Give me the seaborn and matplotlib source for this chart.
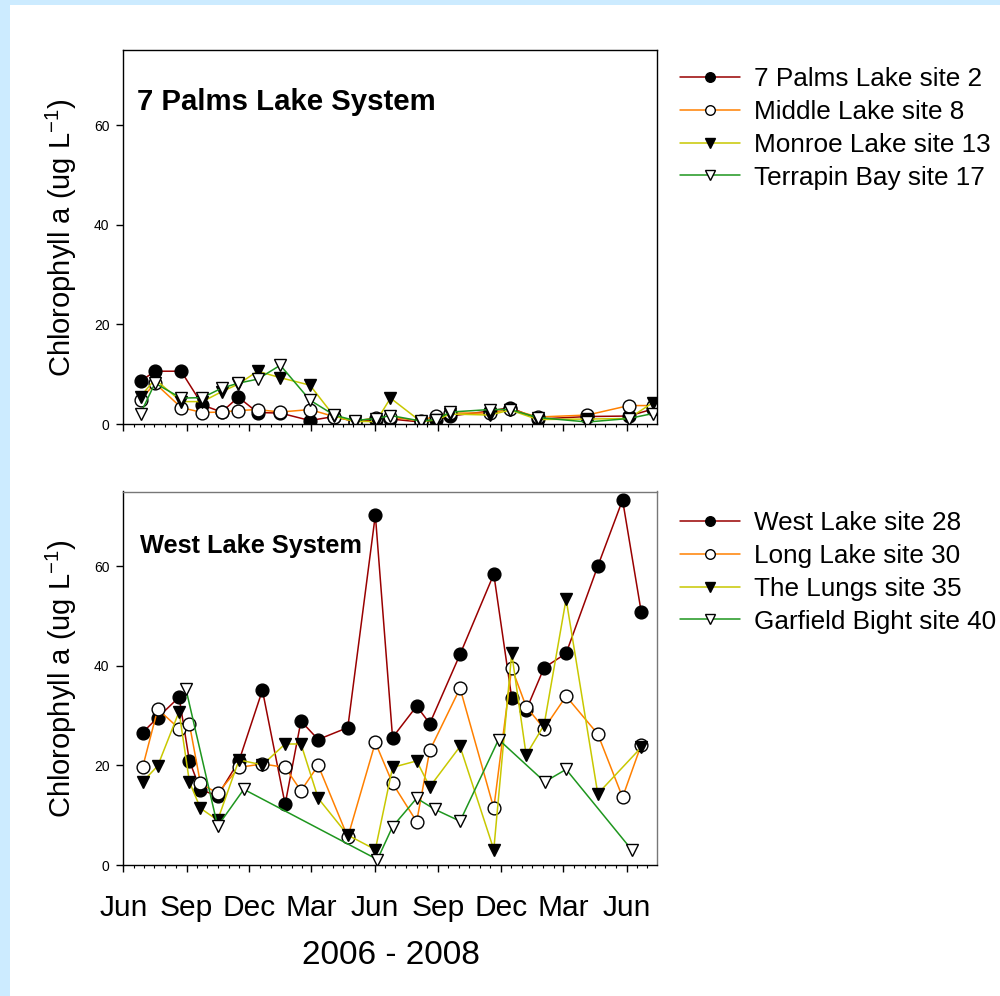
import numpy as np
import pandas as pd
import matplotlib
matplotlib.use('Agg')
import matplotlib.pyplot as plt
import matplotlib.dates as mdates
from matplotlib.patches import Rectangle
import seaborn as sns

# ---------------- data ----------------
dates_top = ['2006-06-26', '2006-07-17', '2006-08-24', '2006-09-24', '2006-10-22',
             '2006-11-15', '2006-12-13', '2007-01-15', '2007-02-27', '2007-04-03',
             '2007-05-03', '2007-06-03', '2007-06-24', '2007-08-07', '2007-08-29',
             '2007-09-19', '2007-11-15', '2007-12-15', '2008-01-24', '2008-04-05',
             '2008-06-04', '2008-07-09']
palms2 = [8.6, 10.6, 10.6, 3.8, 2.4, 5.4, 2.3, 2.2, 0.7, 1.5, 0.5, 0.8, 1.0,
          0.4, 0.8, 1.6, 2.6, 3.3, 1.0, 1.5, 1.6, 3.0]
middle8 = [4.8, 8.2, 3.3, 2.3, 2.4, 2.7, 2.9, 2.4, 2.9, 1.5, 0.5, 1.3, 1.4,
           0.6, 1.7, 2.2, 2.2, 3.0, 1.4, 1.8, 3.7, 3.7]
monroe13 = [5.5, 9.0, 4.5, 4.5, 6.5, 8.0, 10.6, 9.3, 7.8, 1.6, 0.5, 0.5, 5.2,
            0.5, 0.8, 2.0, 1.8, 2.8, 0.9, 1.0, 1.1, 4.3]
terrapin17 = [2.1, 8.2, 5.2, 5.3, 7.2, 8.2, 9.0, 11.8, 4.8, 1.8, 0.7, 1.1, 1.7,
              0.6, 0.9, 2.4, 2.9, 2.9, 1.3, 0.4, 1.1, 2.1]

dates_west = ['2006-06-29', '2006-07-21', '2006-08-21', '2006-09-05', '2006-09-21',
              '2006-10-16', '2006-11-16', '2006-12-20', '2007-01-22', '2007-02-14',
              '2007-03-11', '2007-04-23', '2007-06-02', '2007-06-27', '2007-08-01',
              '2007-08-20', '2007-10-03', '2007-11-21', '2007-12-17', '2008-01-07',
              '2008-02-02', '2008-03-05', '2008-04-20', '2008-05-26', '2008-06-22']
west28 = [26.6, 29.6, 33.7, 20.9, 15.1, 13.9, 20.9, 35.1, 12.2, 28.9, 25.2, 27.6,
          70.3, 25.6, 31.9, 28.4, 42.3, 58.4, 33.6, 31.1, 39.6, 42.5, 60.0, 73.3, 50.9]
long30 = [19.6, 31.3, 27.4, 28.3, 16.4, 14.4, 19.6, 20.3, 19.6, 14.9, 20.0, 5.6,
          24.6, 16.4, 8.7, 23.0, 35.5, 11.4, 39.6, 31.8, 27.4, 33.9, 26.3, 13.6, 24.1]
dates_lungs = [d for d in dates_west if d != '2008-05-26']
lungs35 = [16.7, 19.9, 30.8, 16.7, 11.4, 9.0, 21.1, 20.1, 24.3, 24.3, 13.4, 6.0,
           3.1, 19.6, 20.9, 15.7, 23.8, 3.1, 42.5, 22.1, 28.1, 53.4, 14.3, 23.6]
dates_garfield = ['2006-08-31', '2006-10-16', '2006-11-23', '2007-06-05', '2007-06-27',
                  '2007-08-01', '2007-08-27', '2007-10-03', '2007-11-28', '2008-02-03',
                  '2008-03-05', '2008-06-08']
garfield40 = [35.3, 7.8, 15.2, 1.1, 7.7, 13.4, 11.2, 8.8, 25.2, 16.7, 19.2, 3.1]

top_series = [
    ('7 Palms Lake site 2', dates_top, palms2),
    ('Middle Lake site 8', dates_top, middle8),
    ('Monroe Lake site 13', dates_top, monroe13),
    ('Terrapin Bay site 17', dates_top, terrapin17),
]
bottom_series = [
    ('West Lake site 28', dates_west, west28),
    ('Long Lake site 30', dates_west, long30),
    ('The Lungs site 35', dates_lungs, lungs35),
    ('Garfield Bight site 40', dates_garfield, garfield40),
]

# ---------------- style ----------------
line_colors = ['#990000', '#FF8000', '#C8C800', '#1E961E']
markers = ['o', 'o', 'v', 'v']
face_colors = ['black', 'white', 'black', 'white']

sns.set_style('ticks')
plt.rcParams['font.family'] = ['Liberation Sans', 'DejaVu Sans']
plt.rcParams['mathtext.fontset'] = 'custom'
plt.rcParams['mathtext.rm'] = 'Liberation Sans'
plt.rcParams['mathtext.it'] = 'Liberation Sans:italic'
plt.rcParams['mathtext.bf'] = 'Liberation Sans:bold'
for k in ['text.color', 'axes.labelcolor', 'xtick.color', 'ytick.color']:
    plt.rcParams[k] = 'black'

fig = plt.figure(figsize=(10, 9.96), dpi=100, facecolor='#CCEBFF')
fig.add_artist(Rectangle((0.010, 0.0), 0.99, 1 - 5 / 996, transform=fig.transFigure,
                         facecolor='white', edgecolor='none', zorder=-10))

ax_w = (657 - 123.3) / 1000
ax_h = 373.5 / 996
ax1 = fig.add_axes([0.1233, 1 - 424 / 996, ax_w, ax_h])
ax2 = fig.add_axes([0.1233, 1 - 865 / 996, ax_w, ax_h])

x0 = pd.Timestamp('2006-06-01')
x1 = pd.Timestamp('2008-07-15')


def draw(ax, series):
    for i, (name, d, v) in enumerate(series):
        df = pd.DataFrame({'date': pd.to_datetime(d), 'value': v})
        sns.lineplot(data=df, x='date', y='value', ax=ax, color=line_colors[i],
                     marker=markers[i], markersize=9.2, markerfacecolor=face_colors[i],
                     markeredgecolor='black', markeredgewidth=1.0, linewidth=1.1,
                     label=name, estimator=None, sort=False)
    leg = ax.get_legend()
    if leg is not None:
        leg.remove()
    ax.set_xlim(x0, x1)
    ax.set_ylim(0, 75)
    ax.set_yticks([0, 20, 40, 60])
    ax.xaxis.set_major_locator(mdates.MonthLocator(bymonth=[3, 6, 9, 12]))
    ax.xaxis.set_minor_locator(mdates.MonthLocator(bymonthday=[1, 16]))
    ax.xaxis.set_major_formatter(mdates.DateFormatter('%b'))
    ax.tick_params(axis='both', which='major', direction='out', length=5, width=1,
                   color='black')
    ax.tick_params(axis='x', which='minor', direction='out', length=2.5, width=0.8,
                   color='black')
    ax.tick_params(axis='y', labelsize=10, pad=5, labelcolor='black')
    ax.tick_params(axis='x', labelsize=21.5, pad=16, labelcolor='black')
    for s in ax.spines.values():
        s.set_visible(True)
        s.set_linewidth(1.0)
        s.set_color('black')
    ax.set_xlabel('')
    ax.set_ylabel('Chlorophyll a (ug L$^{-1}$)', fontsize=21, color='black')
    ax.yaxis.set_label_coords(-0.083, 0.5)


draw(ax1, top_series)
draw(ax2, bottom_series)
ax1.tick_params(axis='x', labelbottom=False)
ax2.spines['top'].set_color('#777777')
ax2.spines['right'].set_color('#777777')

ax1.text(0.026, 0.861, '7 Palms Lake System', transform=ax1.transAxes,
         fontsize=21.2, fontweight='bold', va='center', ha='left', color='black')
ax2.text(0.031, 0.853, 'West Lake System', transform=ax2.transAxes,
         fontsize=18.3, fontweight='bold', va='center', ha='left', color='black')

fig.text(0.391, 1 - 955 / 996, '2006 - 2008', ha='center', va='center', fontsize=24,
         color='black')

for ax, ytop in [(ax1, 67), (ax2, 511)]:
    h, l = ax.get_legend_handles_labels()
    fig.legend(h, l, loc='upper left', bbox_to_anchor=(680 / 1000, 1 - ytop / 996),
               bbox_transform=fig.transFigure, frameon=False, fontsize=18.8,
               handlelength=2.3, handletextpad=0.55, labelspacing=0.34,
               borderpad=0, borderaxespad=0, markerscale=0.75, labelcolor='black')

fig.savefig('out.png', dpi=100, facecolor=fig.get_facecolor())
